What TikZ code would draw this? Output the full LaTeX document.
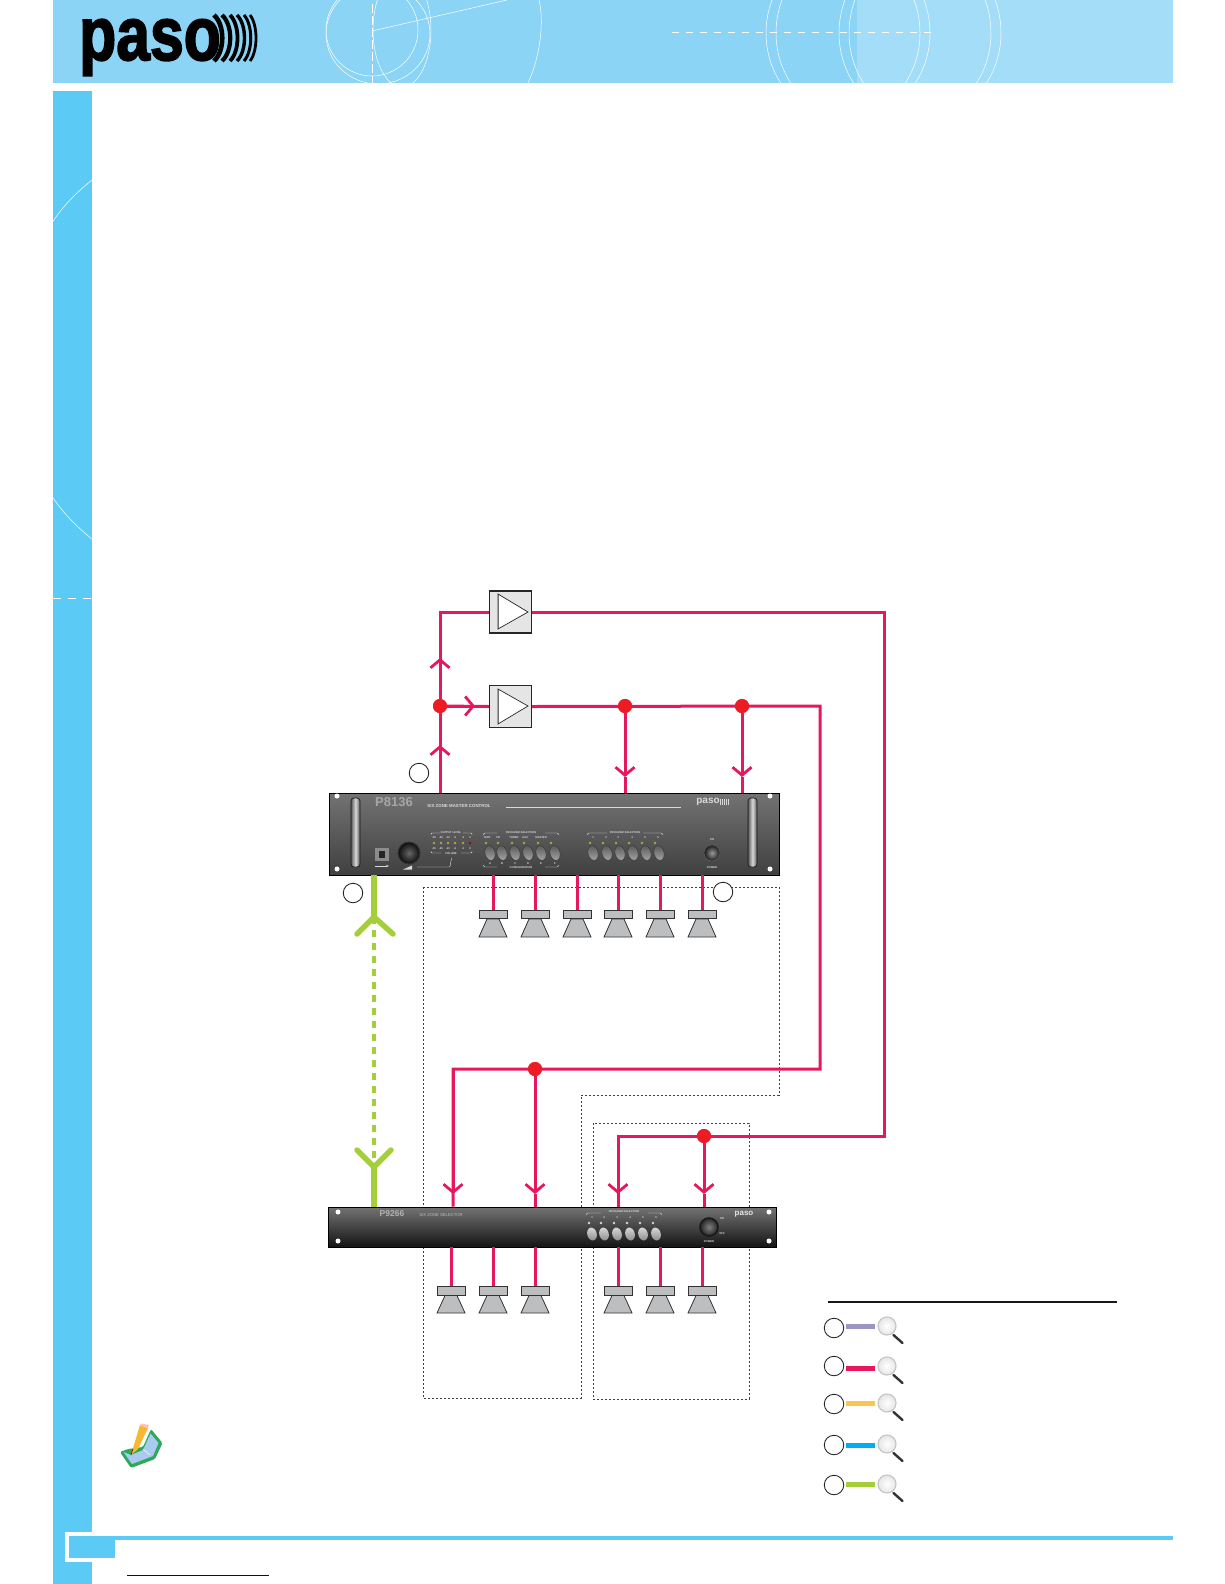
\documentclass[tikz,border=0pt]{standalone}
\usepackage{fontspec}
\setmainfont{Liberation Sans}
\newfontfamily\logofont{Liberation Sans}[BoldFeatures={FakeBold=2.5}]
\usepackage{tikz}
\usetikzlibrary{arrows.meta,shapes.geometric}
\definecolor{headblue}{HTML}{8BD4F6}
\definecolor{headlight}{HTML}{A3DDF8}
\definecolor{sideblue}{HTML}{5BCBF5}
\definecolor{wirepink}{HTML}{E5185E}
\definecolor{dotred}{HTML}{ED1C24}
\definecolor{spkgrey}{HTML}{BCBEC0}
\definecolor{buspurple}{HTML}{9D93C5}
\definecolor{busyellow}{HTML}{FBC54F}
\definecolor{busblue}{HTML}{00AEEF}
\definecolor{busgreen}{HTML}{A5CF3A}
\definecolor{bookgreen}{HTML}{2FA85A}
\definecolor{bookpage}{HTML}{A9CBEF}
\definecolor{pencil}{HTML}{F7B731}
\tikzset{
  wire/.style={wirepink,line width=3pt},
  chev/.style={wire,-{Straight Barb[length=8pt,width=19pt,line width=2.8pt]}},
  joint/.style={circle,fill=dotred,minimum size=14pt,inner sep=0pt},
  ampbox/.style={draw=black!85,fill=black!10,line width=1.4pt,minimum size=42pt,inner sep=0pt},
  ampsym/.style={draw=black!85,fill=white,line width=0.7pt},
  spkbar/.style={draw=black!80,fill=spkgrey,line width=0.8pt,minimum width=28pt,minimum height=8.5pt,inner sep=0pt},
  spkcone/.style={draw=black!80,fill=spkgrey,line width=0.8pt},
  ringmark/.style={circle,draw=black!85,fill=white,line width=0.9pt,minimum size=19.5pt,inner sep=0pt},
  zonebox/.style={black!75,line width=0.5pt,dash pattern=on 2pt off 2pt},
  greenbus/.style={busgreen,line width=6.5pt},
  greenarm/.style={busgreen,line width=5.5pt,line cap=round,line join=miter},
  greendash/.style={busgreen,line width=3.2pt,dash pattern=on 7pt off 6pt},
  legbar/.style={line width=5pt,shorten <=2pt,shorten >=2pt},
  lens/.style={circle,draw=black!22,line width=1.2pt,inner color=white,outer color=black!10,minimum size=18pt,inner sep=0pt},
  lenshandle/.style={black!80,line width=2.4pt,line cap=round},
  rackhole/.style={circle,fill=white,minimum size=5pt,inner sep=0pt},
  grip/.style={rounded corners=3pt,draw=black!90,line width=0.7pt,left color=black!65,right color=black!65,middle color=black!15},
  keybtn/.style={ellipse,rotate=15,draw=black!80,line width=0.4pt,top color=black!65,bottom color=black!35,minimum width=10pt,minimum height=15pt,inner sep=0pt},
  keylow/.style={ellipse,rotate=15,top color=black!15,bottom color=black!45,minimum width=9.5pt,minimum height=13pt,inner sep=0pt},
  led/.style={circle,fill=olive!70!white,minimum size=2.6pt,inner sep=0pt},
  facetext/.style={text=white!85!black,inner sep=0pt,font=\fontsize{2.7}{3}\selectfont\bfseries},
  facerule/.style={white!90!black,line width=0.4pt,rounded corners=1pt},
  deco/.style={white,line width=0.5pt},
}
\begin{document}
\begin{tikzpicture}[x=1pt,y=-1pt]
\useasboundingbox (0,0) rectangle (1224,1584);
% page frame
\fill[headblue] (52.5,0) rectangle (857,83);
\fill[headlight] (857,0) rectangle (1172.5,83);
\begin{scope}
\clip (52.5,0) rectangle (1172.5,83);
\draw[deco] (372,30) circle (46pt);
\draw[deco] (402,30) ellipse (29pt and 57pt);
\draw[deco] (378,34) ellipse (52pt and 50pt);
\draw[deco] (539,0) .. controls (544,20) and (541,55) .. (528,83);
\draw[deco] (372,31) -- (507,0);
\draw[deco,dash pattern=on 9pt off 3pt] (372,4) -- (372,83);
\draw[deco] (843,33) ellipse (77pt and 85pt);
\draw[deco] (853,33) ellipse (77pt and 85pt);
\draw[deco] (915,33) ellipse (76pt and 85pt);
\draw[deco] (925,33) ellipse (76pt and 85pt);
\draw[deco,line width=0.7pt,dash pattern=on 7pt off 7pt] (672,32.5) -- (938,32.5);
\end{scope}
\fill[sideblue] (52.5,91) rectangle (92,1584);
\draw[deco] (52.5,222) .. controls (63,206) and (77,192) .. (92,180);
\draw[deco] (52.5,497) .. controls (63,513) and (77,527) .. (92,539);
\draw[deco,dash pattern=on 8pt off 7pt] (52.5,598) -- (92,598);
\fill[white] (65,1532) rectangle (115,1562);
\fill[sideblue] (69,1536) rectangle (115,1558);
\fill[sideblue] (69,1536) rectangle (1172.5,1540);
\draw[blue!60!black,line width=0.9pt] (127,1575) -- (269,1575);
% logo
\node[anchor=base west,inner sep=0pt,text=black] (pasoLogo) at (79,60) {\scalebox{0.74}[0.92]{\fontsize{82}{82}\logofont\bfseries paso}};
\draw[black,line width=4.6pt] (214,15) .. controls (225,25) and (225,51) .. (214,61);
\draw[black,line width=4.2pt] (222,15) .. controls (233,25) and (233,51) .. (222,61);
\draw[black,line width=3.8pt] (230,15) .. controls (240,25) and (240,51) .. (230,61);
\draw[black,line width=3.4pt] (237,15) .. controls (247,25) and (247,51) .. (237,61);
\draw[black,line width=3pt] (244,15) .. controls (253,25) and (253,51) .. (244,61);
\draw[black,line width=2.8pt] (250,15) .. controls (258,25) and (258,51) .. (250,61);
% dashed zones
\draw[zonebox] (423,887) -- (779,887) -- (779,1095) -- (581,1095) -- (581,1398) -- (423,1398) -- cycle;
\draw[zonebox] (593,1123) rectangle (749,1399);
% amplifiers
\node[ampbox] (ampTop) at (510.5,612) {};
\node[ampbox] (ampLow) at (510.5,706.5) {};
\draw[ampsym] (498,594) -- (528,612) -- (498,629) -- cycle;
\draw[ampsym] (498,689) -- (528,706) -- (498,724) -- cycle;
\draw[black!55,line width=1pt] (498.6,595) -- (498.6,628);
\draw[black!55,line width=1pt] (498.6,690) -- (498.6,723);
% master panel
\node[draw=black,line width=0.8pt,top color=black!55,bottom color=black!75,minimum width=450pt,minimum height=82pt,inner sep=0pt] (master) at (554,834) {};
\node[rackhole] (mh1) at (337,796) {};
\node[rackhole] (mh2) at (770,796) {};
\node[rackhole] (mh3) at (337,869) {};
\node[rackhole] (mh4) at (770,869) {};
\draw[grip] (351,798) rectangle (360,867);
\draw[grip] (748,798) rectangle (757,867);
\node[inner sep=0pt,text=black!35,font=\fontsize{13}{13}\selectfont\bfseries] (masterName) at (394,802.5) {P8136};
\node[inner sep=0pt,text=white!85!black,font=\fontsize{4.4}{5}\selectfont\bfseries] (masterTitle) at (459,806) {SIX ZONE MASTER CONTROL};
\draw[white!85!black,line width=0.6pt] (506,807) -- (681,807);
\node[inner sep=0pt,text=white!85!black,font=\fontsize{10}{10}\selectfont\bfseries] (masterLogo) at (708,802) {paso};
\draw[white!85!black,line width=6pt,dash pattern=on 1pt off 1pt] (720,802) -- (730,802);
\fill[black!45] (375,848) rectangle (389,861);
\fill[black!85] (379,851) rectangle (385,858);
\draw[white!85!black,line width=0.8pt,-{Stealth[length=3pt]}] (375,866) -- (389,866);
\node[circle,draw=black!80,line width=1pt,inner color=black!60,outer color=black!95,minimum size=22pt,inner sep=0pt] (volKnob) at (409,853) {};
\fill[white!85!black] (403,869.5) -- (412,869.5) -- (412,865.5) -- cycle;
\draw[facerule] (417,867) -- (450,867) -- (451.5,858);
\draw[facerule] (431,835) -- (431,833) -- (440,833);
\draw[facerule] (472,835) -- (472,833) -- (463,833);
\draw[facerule] (431,851) -- (431,853) -- (441,853);
\draw[facerule] (472,851) -- (472,853) -- (461,853);
\node[facetext] (outLevel) at (451,832.5) {OUTPUT LEVEL};
\node[facetext] (volume) at (451,854) {VOLUME};
\node[led] (vu1) at (434,843) {};
\node[led] (vu2) at (441,843) {};
\node[led] (vu3) at (448,843) {};
\node[led] (vu4) at (455,843) {};
\node[led] (vu5) at (463,843) {};
\node[led,fill=red!70!black] (vu6) at (470,843) {};
\node[facetext] (va1) at (434,838) {-30};
\node[facetext] (va2) at (441,838) {-20};
\node[facetext] (va3) at (448,838) {-10};
\node[facetext] (va4) at (455,838) {-6};
\node[facetext] (va5) at (463,838) {-3};
\node[facetext] (va6) at (470,838) {0};
\node[facetext] (vb1) at (434,848.5) {-30};
\node[facetext] (vb2) at (441,848.5) {-20};
\node[facetext] (vb3) at (448,848.5) {-10};
\node[facetext] (vb4) at (455,848.5) {-6};
\node[facetext] (vb5) at (463,848.5) {-3};
\node[facetext] (vb6) at (470,848.5) {0};
% master panel keys
\draw[facerule] (483,835) -- (484,833) -- (497,833);
\draw[facerule] (559,835) -- (558,833) -- (545,833);
\draw[facerule] (483,865) -- (484,867) -- (497,867);
\draw[facerule] (559,865) -- (558,867) -- (545,867);
\node[facetext] (cfgTitle) at (521,832.5) {PROGRAM SELECTION};
\node[facetext] (cfgName1) at (487,838) {TAPE};
\node[facetext] (cfgName2) at (498,838) {CD};
\node[facetext] (cfgName3) at (514,838) {TUNER};
\node[facetext] (cfgName4) at (525,838) {AUX};
\node[facetext] (cfgName5) at (541,838) {MASTER};
\node[led] (cfgLed1) at (486,843) {};
\node[led] (cfgLed2) at (498,843) {};
\node[led] (cfgLed3) at (512,843) {};
\node[led] (cfgLed4) at (524,843) {};
\node[led] (cfgLed5) at (538,843) {};
\node[led] (cfgLed6) at (551,843) {};
\node[keybtn] (cfgKey1) at (490,853) {};
\node[keybtn] (cfgKey2) at (502,853) {};
\node[keybtn] (cfgKey3) at (515,853) {};
\node[keybtn] (cfgKey4) at (528,853) {};
\node[keybtn] (cfgKey5) at (541,853) {};
\node[keybtn] (cfgKey6) at (555,853) {};
\node[facetext] (cfgA) at (490,863.5) {A};
\node[facetext] (cfgB) at (502,863.5) {B};
\node[facetext] (cfgC) at (515,863.5) {C};
\node[facetext] (cfgD) at (528,863.5) {D};
\node[facetext] (cfgE) at (541,863.5) {E};
\node[facetext] (cfgF) at (555,863.5) {F};
\node[facetext] (cfgBottom) at (521,867.5) {CONFIGURATION};
\draw[facerule] (587,835) -- (588,833) -- (607,833);
\draw[facerule] (663,835) -- (662,833) -- (643,833);
\node[facetext] (prgTitle) at (625,832.5) {PROGRAM SELECTION};
\node[facetext] (prgNum1) at (593,838) {1};
\node[facetext] (prgNum2) at (606,838) {2};
\node[facetext] (prgNum3) at (618,838) {3};
\node[facetext] (prgNum4) at (632,838) {4};
\node[facetext] (prgNum5) at (645,838) {5};
\node[facetext] (prgNum6) at (658,838) {6};
\node[led] (prgLed1) at (590,843) {};
\node[led] (prgLed2) at (603,843) {};
\node[led] (prgLed3) at (616,843) {};
\node[led] (prgLed4) at (629,843) {};
\node[led] (prgLed5) at (642,843) {};
\node[led] (prgLed6) at (655,843) {};
\node[keybtn] (prgKey1) at (593,853) {};
\node[keybtn] (prgKey2) at (607,853) {};
\node[keybtn] (prgKey3) at (620,853) {};
\node[keybtn] (prgKey4) at (633,853) {};
\node[keybtn] (prgKey5) at (646,853) {};
\node[keybtn] (prgKey6) at (659,853) {};
\node[circle,draw=black!60,line width=0.5pt,inner color=black!40,outer color=black!90,minimum size=16pt,inner sep=0pt] (pwrKnob) at (712,853) {};
\node[facetext] (pwrOn) at (712,839.5) {ON};
\node[facetext] (pwrName) at (712,867.5) {POWER};
% zone panel
\node[draw=black,line width=0.8pt,top color=black!55,bottom color=black!92,minimum width=448pt,minimum height=40pt,inner sep=0pt] (zone) at (552,1227) {};
\node[rackhole] (zh1) at (338,1212) {};
\node[rackhole] (zh2) at (338,1241) {};
\node[rackhole] (zh3) at (769,1212) {};
\node[rackhole] (zh4) at (769,1241) {};
\node[inner sep=0pt,text=black!30,font=\fontsize{8.5}{9}\selectfont\bfseries] (zoneName) at (392,1214) {P9266};
\node[inner sep=0pt,text=black!25,font=\fontsize{4.2}{5}\selectfont] (zoneTitle) at (441,1215) {SIX ZONE SELECTOR};
\node[inner sep=0pt,text=white!90!black,font=\fontsize{8}{8}\selectfont\bfseries] (zoneLogo) at (744,1214) {paso};
\draw[facerule] (586,1215) -- (587,1213) -- (601,1213);
\draw[facerule] (662,1215) -- (661,1213) -- (648,1213);
\node[facetext] (zoneSel) at (624,1212) {PROGRAM SELECTION};
\node[facetext] (zoneNum1) at (592,1218) {1};
\node[facetext] (zoneNum2) at (604,1218) {2};
\node[facetext] (zoneNum3) at (617,1218) {3};
\node[facetext] (zoneNum4) at (630,1218) {4};
\node[facetext] (zoneNum5) at (643,1218) {5};
\node[facetext] (zoneNum6) at (656,1218) {6};
\node[led,fill=white!85!black] (zoneLed1) at (589,1223) {};
\node[led,fill=white!85!black] (zoneLed2) at (601,1223) {};
\node[led,fill=white!85!black] (zoneLed3) at (614,1223) {};
\node[led,fill=white!85!black] (zoneLed4) at (627,1223) {};
\node[led,fill=white!85!black] (zoneLed5) at (640,1223) {};
\node[led,fill=white!85!black] (zoneLed6) at (653,1223) {};
\node[keylow] (zoneKey1) at (592,1234) {};
\node[keylow] (zoneKey2) at (604,1234) {};
\node[keylow] (zoneKey3) at (617,1234) {};
\node[keylow] (zoneKey4) at (630,1234) {};
\node[keylow] (zoneKey5) at (643,1234) {};
\node[keylow] (zoneKey6) at (656,1234) {};
\node[circle,draw=black!90,line width=1.6pt,inner color=black!50,outer color=black!85,minimum size=18pt,inner sep=0pt] (zoneKnob) at (709,1227) {};
\node[facetext] (zoneOn) at (722,1219) {ON};
\node[facetext] (zoneOff) at (722,1234) {OFF};
\node[facetext] (zonePwr) at (709,1242) {POWER};
% junctions and corners
\node[joint] (jIn) at (440,706) {};
\node[joint] (jPgmA) at (625,706) {};
\node[joint] (jPgmB) at (742,706) {};
\node[joint] (jLow) at (535,1069) {};
\node[joint] (jHigh) at (704,1136) {};
\coordinate (cTop) at (440,612);
\coordinate (cInA) at (440,745);
\coordinate (cInB) at (440,658);
\coordinate (cIn) at (475,706);
\coordinate (cR1) at (884,612);
\coordinate (cR2) at (884,1136);
\coordinate (cR3) at (618,1136);
\coordinate (cS1) at (820,706);
\coordinate (cS2) at (820,1069);
\coordinate (cS3) at (453,1069);
\coordinate (tipA) at (625,777);
\coordinate (tipB) at (742,777);
\coordinate (tipC) at (453,1194);
\coordinate (tipD) at (535,1194);
\coordinate (tipE) at (618,1194);
\coordinate (tipF) at (704,1194);
% wiring
\draw[wire] (master.north -| cInA) -- (jIn);
\draw[chev] (jIn |- master.north) -- (cInA);
\draw[wire] (jIn) -- (cTop) -- (ampTop.west);
\draw[chev] (jIn) -- (cInB);
\draw[wire] (jIn) -- (ampLow.west);
\draw[chev] (jIn) -- (cIn);
\draw[wire] (ampTop.east) -- (cR1) -- (cR2) -- (cR3) -- (tipE) -- (zone.north -| tipE);
\draw[wire] (ampLow.east) -- (cS1) -- (cS2) -- (cS3) -- (tipC) -- (zone.north -| tipC);
\draw[chev] (jPgmA) -- (tipA);
\draw[wire] (tipA) -- (master.north -| tipA);
\draw[chev] (jPgmB) -- (tipB);
\draw[wire] (tipB) -- (master.north -| tipB);
\draw[chev] (cS3) -- (tipC);
\draw[chev] (jLow) -- (tipD);
\draw[wire] (tipD) -- (zone.north -| tipD);
\draw[chev] (cR3) -- (tipE);
\draw[chev] (jHigh) -- (tipF);
\draw[wire] (tipF) -- (zone.north -| tipF);
\node[joint] (jIn2) at (jIn) {};
\node[joint] (jPgmA2) at (jPgmA) {};
\node[joint] (jPgmB2) at (jPgmB) {};
\node[joint] (jLow2) at (jLow) {};
\node[joint] (jHigh2) at (jHigh) {};
% speakers
\node[spkbar] (spkA) at (493,914.5) {};
\node[spkbar] (spkB) at (535,914.5) {};
\node[spkbar] (spkC) at (577,914.5) {};
\node[spkbar] (spkD) at (618,914.5) {};
\node[spkbar] (spkE) at (660,914.5) {};
\node[spkbar] (spkF) at (702,914.5) {};
\node[spkbar] (spkG) at (451,1291) {};
\node[spkbar] (spkH) at (493,1291) {};
\node[spkbar] (spkI) at (535,1291) {};
\node[spkbar] (spkJ) at (618,1291) {};
\node[spkbar] (spkK) at (660,1291) {};
\node[spkbar] (spkL) at (702,1291) {};
\draw[spkcone] (487,919) -- (499,919) -- (507,937) -- (479,937) -- cycle;
\draw[spkcone] (529,919) -- (541,919) -- (549,937) -- (521,937) -- cycle;
\draw[spkcone] (571,919) -- (583,919) -- (591,937) -- (563,937) -- cycle;
\draw[spkcone] (612,919) -- (624,919) -- (632,937) -- (604,937) -- cycle;
\draw[spkcone] (654,919) -- (666,919) -- (674,937) -- (646,937) -- cycle;
\draw[spkcone] (696,919) -- (708,919) -- (716,937) -- (688,937) -- cycle;
\draw[spkcone] (445,1295.5) -- (457,1295.5) -- (465,1313) -- (437,1313) -- cycle;
\draw[spkcone] (487,1295.5) -- (499,1295.5) -- (507,1313) -- (479,1313) -- cycle;
\draw[spkcone] (529,1295.5) -- (541,1295.5) -- (549,1313) -- (521,1313) -- cycle;
\draw[spkcone] (612,1295.5) -- (624,1295.5) -- (632,1313) -- (604,1313) -- cycle;
\draw[spkcone] (654,1295.5) -- (666,1295.5) -- (674,1313) -- (646,1313) -- cycle;
\draw[spkcone] (696,1295.5) -- (708,1295.5) -- (716,1313) -- (688,1313) -- cycle;
\draw[wire] (master.south -| spkA) -- (spkA.north);
\draw[wire] (master.south -| spkB) -- (spkB.north);
\draw[wire] (master.south -| spkC) -- (spkC.north);
\draw[wire] (master.south -| spkD) -- (spkD.north);
\draw[wire] (master.south -| spkE) -- (spkE.north);
\draw[wire] (master.south -| spkF) -- (spkF.north);
\draw[wire] (zone.south -| spkG) -- (spkG.north);
\draw[wire] (zone.south -| spkH) -- (spkH.north);
\draw[wire] (zone.south -| spkI) -- (spkI.north);
\draw[wire] (zone.south -| spkJ) -- (spkJ.north);
\draw[wire] (zone.south -| spkK) -- (spkK.north);
\draw[wire] (zone.south -| spkL) -- (spkL.north);
% green link
\coordinate (gTop) at (374,917);
\coordinate (gLow) at (374,1167);
\draw[greendash] (gTop) -- (gLow);
\draw[greenbus] (master.south -| gTop) -- (gTop);
\draw[greenbus] (gLow) -- (zone.north -| gLow);
\draw[greenarm] (357,934) -- (gTop) -- (393,934);
\draw[greenarm] (357,1150) -- (gLow) -- (391,1150);
% marks
\node[ringmark] (markIn) at (419,773) {};
\node[ringmark] (markBus) at (353,893) {};
\node[ringmark] (markSpk) at (723,892) {};
% legend
\draw[black!90,line width=1.4pt] (828,1302) -- (1117,1302);
\node[ringmark] (legA) at (834,1328) {};
\node[ringmark] (legB) at (834,1366) {};
\node[ringmark] (legC) at (834,1404) {};
\node[ringmark] (legD) at (834,1445) {};
\node[ringmark] (legE) at (834,1485) {};
\node[lens] (lensA) at (887,1326) {};
\node[lens] (lensB) at (887,1366) {};
\node[lens] (lensC) at (887,1403) {};
\node[lens] (lensD) at (887,1444) {};
\node[lens] (lensE) at (887,1484) {};
\draw[legbar,buspurple] (legA.east |- lensA) -- (lensA.west);
\draw[legbar,wirepink] (legB.east |- 0,1368) -- (lensB.west |- 0,1368);
\draw[legbar,busyellow] (legC.east |- lensC) -- (lensC.west);
\draw[legbar,busblue] (legD.east |- 0,1445) -- (lensD.west |- 0,1445);
\draw[legbar,busgreen] (legE.east |- lensE) -- (lensE.west);
\draw[lenshandle] (893.5,1335) -- ++(9,8);
\draw[lenshandle] (893.5,1375) -- ++(9,8);
\draw[lenshandle] (893.5,1412) -- ++(9,8);
\draw[lenshandle] (893.5,1453) -- ++(9,8);
\draw[lenshandle] (893.5,1493) -- ++(9,8);
% note icon
\fill[bookgreen,rounded corners=1.5pt] (120,1452) -- (131,1468) -- (155,1459) -- (162.5,1443) -- (151,1429) -- (143,1447) -- (128,1449) -- cycle;
\fill[bookpage] (123.5,1452) -- (132,1464) -- (153,1456) -- (158.5,1443) -- (150.5,1433.5) -- (143,1450) -- (131,1455) -- cycle;
\draw[white,line width=0.5pt] (143,1449) -- (150,1455);
\fill[pencil] (131,1455) -- (140,1425) -- (148,1428) -- (138,1449) -- cycle;
\fill[red!25] (140,1425) -- (142,1423.5) -- (149,1425) -- (148,1428) -- cycle;
\draw[red!50!black,line width=0.6pt] (131,1455) -- (133,1449);
\end{tikzpicture}
\end{document}
